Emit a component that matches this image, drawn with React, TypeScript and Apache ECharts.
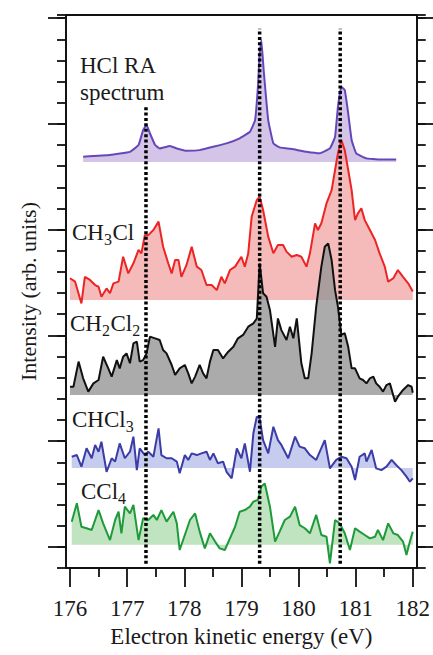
import React, { useEffect, useRef } from "react";
import * as echarts from "echarts";

// ---- Data (electron kinetic energy in eV, intensity in arbitrary offset units) ----
const hclEnergy = [176.23, 176.7, 177.05, 177.2, 177.28, 177.34, 177.4, 177.49, 177.57, 177.75, 177.87, 178.04, 178.27, 178.51, 178.74, 178.97, 179.15, 179.24, 179.29, 179.32, 179.35, 179.39, 179.47, 179.56, 179.67, 179.91, 180.14, 180.37, 180.55, 180.64, 180.69, 180.75, 180.81, 180.87, 180.93, 181.01, 181.19, 181.42, 181.71];
const hclIntensity = [19.45, 19.53, 19.68, 20.0, 20.71, 20.95, 20.55, 20.0, 19.84, 19.95, 19.84, 19.73, 19.76, 19.92, 20.08, 20.32, 20.63, 21.18, 22.76, 24.33, 24.96, 23.55, 21.18, 20.08, 19.89, 19.8, 19.68, 19.61, 19.84, 20.39, 21.81, 22.76, 22.6, 21.5, 20.24, 19.61, 19.37, 19.32, 19.32];

const ch3clEnergy = [176.0, 176.09, 176.2, 176.26, 176.35, 176.44, 176.5, 176.55, 176.64, 176.7, 176.76, 176.85, 176.93, 177.02, 177.11, 177.2, 177.25, 177.31, 177.37, 177.46, 177.55, 177.63, 177.72, 177.78, 177.84, 177.9, 177.95, 178.04, 178.13, 178.22, 178.3, 178.39, 178.48, 178.57, 178.65, 178.71, 178.8, 178.89, 179.0, 179.06, 179.12, 179.18, 179.27, 179.32, 179.38, 179.47, 179.56, 179.64, 179.73, 179.79, 179.88, 179.97, 180.05, 180.14, 180.2, 180.29, 180.34, 180.4, 180.49, 180.58, 180.64, 180.69, 180.75, 180.81, 180.87, 180.93, 180.99, 181.04, 181.1, 181.16, 181.25, 181.34, 181.42, 181.51, 181.57, 181.66, 181.74, 181.83, 181.92, 182.0];
const ch3clIntensity = [13.7, 13.54, 12.51, 13.77, 13.62, 13.38, 13.3, 12.83, 13.22, 12.99, 13.46, 13.54, 14.72, 13.93, 14.41, 15.04, 14.88, 15.74, 15.74, 15.98, 16.38, 15.19, 14.41, 13.93, 14.56, 14.56, 13.77, 14.33, 15.19, 14.25, 14.09, 13.38, 13.38, 13.14, 13.77, 13.46, 14.09, 14.25, 14.72, 14.25, 14.88, 16.61, 17.4, 17.56, 16.93, 15.67, 14.88, 15.27, 15.27, 14.96, 14.72, 14.8, 14.72, 14.25, 14.88, 16.3, 15.98, 16.3, 17.24, 17.87, 18.82, 19.61, 20.24, 19.76, 18.82, 17.87, 16.45, 16.77, 17.01, 16.45, 15.98, 15.51, 14.88, 14.25, 13.54, 13.7, 14.09, 13.77, 13.46, 13.07];

const ch2cl2Energy = [176.0, 176.06, 176.15, 176.23, 176.32, 176.41, 176.5, 176.58, 176.67, 176.73, 176.82, 176.87, 176.93, 176.99, 177.05, 177.11, 177.17, 177.22, 177.28, 177.34, 177.4, 177.49, 177.57, 177.63, 177.69, 177.78, 177.84, 177.92, 178.01, 178.07, 178.13, 178.19, 178.27, 178.33, 178.39, 178.45, 178.51, 178.59, 178.68, 178.77, 178.86, 178.94, 179.03, 179.12, 179.21, 179.27, 179.32, 179.38, 179.44, 179.5, 179.59, 179.64, 179.7, 179.79, 179.85, 179.91, 179.97, 180.05, 180.11, 180.17, 180.23, 180.31, 180.4, 180.46, 180.52, 180.58, 180.64, 180.69, 180.75, 180.81, 180.87, 180.93, 180.99, 181.07, 181.13, 181.19, 181.25, 181.31, 181.36, 181.42, 181.48, 181.54, 181.6, 181.69, 181.74, 181.83, 181.92, 181.98, 182.0];
const ch2cl2Intensity = [8.57, 8.57, 9.76, 8.97, 8.34, 8.73, 8.89, 9.99, 9.44, 9.05, 9.83, 9.44, 9.99, 10.15, 9.68, 10.62, 10.7, 9.76, 9.83, 10.15, 10.94, 10.86, 10.78, 10.31, 10.15, 9.6, 9.13, 9.44, 9.6, 9.2, 8.73, 9.05, 9.6, 9.2, 8.97, 9.76, 10.31, 10.31, 9.91, 10.23, 10.46, 10.86, 11.02, 11.41, 11.57, 11.8, 14.41, 12.99, 12.83, 12.2, 10.46, 11.8, 11.25, 10.78, 11.41, 10.86, 11.8, 9.68, 8.97, 8.97, 10.15, 12.36, 14.25, 15.19, 15.35, 14.56, 13.14, 12.36, 11.02, 11.1, 10.46, 9.44, 9.44, 8.97, 8.89, 8.73, 8.97, 9.05, 8.73, 8.57, 8.34, 8.65, 8.73, 7.86, 8.1, 8.42, 8.65, 8.57, 8.29];

const chcl3Energy = [176.03, 176.12, 176.2, 176.29, 176.38, 176.44, 176.5, 176.55, 176.64, 176.73, 176.79, 176.87, 176.96, 177.05, 177.11, 177.17, 177.22, 177.31, 177.37, 177.46, 177.55, 177.6, 177.69, 177.78, 177.87, 177.92, 178.01, 178.07, 178.13, 178.22, 178.3, 178.39, 178.45, 178.51, 178.59, 178.68, 178.74, 178.83, 178.92, 179.0, 179.06, 179.15, 179.21, 179.27, 179.32, 179.38, 179.47, 179.56, 179.64, 179.7, 179.82, 179.94, 180.02, 180.11, 180.2, 180.31, 180.46, 180.55, 180.66, 180.75, 180.84, 180.93, 180.99, 181.07, 181.16, 181.19, 181.28, 181.36, 181.45, 181.54, 181.63, 181.71, 181.8, 181.89, 181.95, 182.0];
const chcl3Intensity = [5.26, 5.34, 4.79, 5.66, 5.19, 5.82, 5.5, 5.97, 4.55, 5.19, 5.03, 5.89, 5.19, 5.5, 6.21, 4.63, 5.66, 5.34, 5.5, 5.26, 6.6, 5.34, 5.19, 5.19, 5.03, 4.48, 5.34, 5.11, 5.42, 5.34, 5.42, 5.5, 5.11, 5.42, 4.95, 5.03, 4.55, 4.24, 5.66, 5.19, 5.89, 4.55, 6.37, 7.16, 7.08, 6.05, 5.42, 6.68, 6.05, 5.82, 5.19, 6.21, 5.74, 5.66, 5.34, 5.11, 6.05, 4.71, 5.11, 5.26, 5.19, 4.79, 4.16, 5.26, 5.42, 5.03, 5.58, 4.71, 4.63, 4.79, 5.11, 4.87, 4.63, 4.32, 4.08, 4.24];

const ccl4Energy = [176.03, 176.12, 176.2, 176.29, 176.38, 176.44, 176.5, 176.58, 176.7, 176.79, 176.85, 176.9, 176.96, 177.05, 177.11, 177.2, 177.28, 177.37, 177.46, 177.52, 177.6, 177.69, 177.81, 177.87, 177.92, 178.01, 178.1, 178.19, 178.27, 178.36, 178.45, 178.54, 178.62, 178.71, 178.8, 178.89, 178.97, 179.06, 179.15, 179.21, 179.29, 179.35, 179.41, 179.5, 179.59, 179.67, 179.76, 179.85, 179.94, 180.02, 180.11, 180.2, 180.31, 180.4, 180.49, 180.55, 180.64, 180.72, 180.81, 180.9, 180.99, 181.07, 181.16, 181.25, 181.34, 181.39, 181.48, 181.57, 181.66, 181.74, 181.83, 181.89, 181.95, 182.0];
const ccl4Intensity = [2.19, 3.06, 1.95, 1.88, 1.8, 2.27, 2.74, 2.11, 1.32, 2.27, 2.66, 1.64, 2.9, 2.58, 2.98, 1.32, 2.35, 2.27, 2.51, 2.27, 2.74, 2.19, 2.66, 2.11, 0.85, 1.56, 2.27, 2.58, 1.72, 0.93, 1.64, 1.25, 0.93, 0.85, 1.4, 1.95, 2.66, 2.74, 2.9, 3.14, 3.22, 3.85, 4.0, 2.9, 1.25, 1.72, 2.27, 2.43, 2.9, 2.03, 1.88, 1.64, 2.51, 1.56, 1.48, 0.22, 2.27, 2.11, 1.64, 0.85, 1.88, 1.72, 1.56, 1.4, 1.48, 1.8, 1.32, 2.11, 1.64, 1.56, 1.25, 0.61, 1.25, 1.72];

// baselines (vertical offsets) of each spectrum
const baselines = [19.2, 12.67, 8.18, 4.73, 1.1];

// reference peak positions (dotted lines): energy, bottom, top
const peakEnergies = [177.33, 179.32, 180.73];
const peakLineTops = [21.8, 25.5, 25.5];
const peakLineBottom = 0.2;

const xTicks = [176, 182];
const yMax = 26.15;
const yMajorTicks = [1, 6, 11, 16, 21, 26];

const FONT = "'Liberation Serif', 'Times New Roman', serif";
const INK = "#1a1a1a";

const zip = (xs: number[], ys: number[]) => xs.map((x, i) => [x, ys[i]]);

const charW: Record<string, number> = { C: 0.667, H: 0.722, l: 0.278, R: 0.667, A: 0.722, " ": 0.25 };

function chemLabel(parts: [string, boolean][], x: number, y: number) {
  const els: any[] = [];
  let cx = x;
  const main = 23;
  const sub = 16;
  parts.forEach(([t, isSub]) => {
    const fs = isSub ? sub : main;
    els.push({
      type: "text",
      x: cx,
      y: isSub ? y + 7 : y,
      z: 20,
      style: { text: t, fontSize: fs, fontFamily: FONT, fill: INK, verticalAlign: "middle", align: "left" },
    });
    let w = 0;
    for (const ch of t) w += (charW[ch] ?? 0.5) * fs;
    cx += w + (isSub ? 0.5 : 0);
  });
  return els;
}

export default function App() {
  const ref = useRef<HTMLDivElement>(null);
  useEffect(() => {
    if (!ref.current) return;
    const chart = echarts.init(ref.current, undefined, { renderer: "svg" });
    const axisColor = "#111";
    const lw = 1.8;

    const yAxisDef = (position: "left" | "right", major: boolean, withName: boolean) => ({
      type: "value",
      min: 0,
      max: yMax,
      interval: 1,
      position,
      offset: 4,
      axisLine: { show: true, onZero: false, lineStyle: { color: axisColor, width: lw } },
      axisTick: major
        ? { show: true, customValues: yMajorTicks, length: 18, lineStyle: { color: axisColor, width: lw } }
        : { show: true, length: 9, lineStyle: { color: axisColor, width: lw } },
      axisLabel: { show: false },
      splitLine: { show: false },
      name: withName ? "Intensity (arb. units)" : "",
      nameLocation: "middle",
      nameGap: 27,
      nameRotate: 90,
      nameTextStyle: { fontSize: 22, fontFamily: FONT, color: INK },
    });

    const specSeries = (
      name: string,
      xs: number[],
      ys: number[],
      base: number,
      line: string,
      fill: string,
      smooth: number | boolean
    ) => ({
      name,
      type: "line",
      data: zip(xs, ys),
      symbol: "none",
      smooth,
      lineStyle: { color: line, width: 2 },
      areaStyle: { color: fill, origin: base, opacity: 1 },
      z: 2,
    });

    const dotted = peakEnergies.map((e, i) => ({
      type: "line",
      data: [
        [e, peakLineBottom],
        [e, peakLineTops[i]],
      ],
      symbol: "none",
      lineStyle: { color: "#000", width: 3.5, type: [3, 2.4] },
      z: 10,
      silent: true,
    }));

    const graphics: any[] = [
      { type: "line", shape: { x1: 66, y1: 15, x2: 417, y2: 15 }, style: { stroke: axisColor, lineWidth: lw }, z: 30 },
      { type: "line", shape: { x1: 66, y1: 568, x2: 417, y2: 568 }, style: { stroke: axisColor, lineWidth: lw }, z: 30 },
      { type: "text", x: 80, y: 65, z: 20, style: { text: "HCl RA", fontSize: 23, fontFamily: FONT, fill: INK, verticalAlign: "middle" } },
      { type: "text", x: 80, y: 92, z: 20, style: { text: "spectrum", fontSize: 23, fontFamily: FONT, fill: INK, verticalAlign: "middle" } },
      ...chemLabel([["CH", false], ["3", true], ["Cl", false]], 72, 232),
      ...chemLabel([["CH", false], ["2", true], ["Cl", false], ["2", true]], 70, 323),
      ...chemLabel([["CHCl", false], ["3", true]], 72, 419),
      ...chemLabel([["CCl", false], ["4", true]], 81, 491),
    ];

    chart.setOption({
      animation: false,
      backgroundColor: "#ffffff",
      grid: { left: 70, right: 20, top: 15, bottom: 87 },
      xAxis: {
        type: "value",
        min: xTicks[0],
        max: xTicks[1],
        interval: 1,
        axisLine: { show: true, onZero: false, lineStyle: { color: axisColor, width: lw } },
        axisTick: { show: true, length: 19, lineStyle: { color: axisColor, width: lw } },
        minorTick: { show: true, splitNumber: 2, length: 9, lineStyle: { color: axisColor, width: lw } },
        axisLabel: { fontSize: 23, fontFamily: FONT, color: INK, margin: 29 },
        splitLine: { show: false },
        minorSplitLine: { show: false },
        name: "Electron kinetic energy (eV)",
        nameLocation: "middle",
        nameGap: 55,
        nameTextStyle: { fontSize: 23, fontFamily: FONT, color: INK },
      },
      yAxis: [
        yAxisDef("left", false, true),
        yAxisDef("left", true, false),
        yAxisDef("right", false, false),
        yAxisDef("right", true, false),
      ],
      series: [
        specSeries("HCl RA spectrum", hclEnergy, hclIntensity, baselines[0], "#6548b8", "rgba(160,125,205,0.45)", 0.1),
        specSeries("CH3Cl", ch3clEnergy, ch3clIntensity, baselines[1], "#ec2424", "rgba(240,150,150,0.65)", false),
        specSeries("CH2Cl2", ch2cl2Energy, ch2cl2Intensity, baselines[2], "#111111", "rgba(150,150,150,0.8)", false),
        specSeries("CHCl3", chcl3Energy, chcl3Intensity, baselines[3], "#3b3ca6", "rgba(160,170,225,0.6)", false),
        specSeries("CCl4", ccl4Energy, ccl4Intensity, baselines[4], "#1e9a3a", "rgba(150,210,150,0.6)", false),
        ...dotted,
      ],
      graphic: graphics,
    });
    return () => chart.dispose();
  }, []);
  return <div ref={ref} style={{ width: 433, height: 655, position: "absolute", left: 0, top: 0 }} />;
}
